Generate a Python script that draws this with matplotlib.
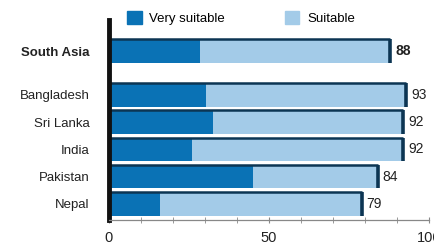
import matplotlib.pyplot as plt
from matplotlib.patches import Patch

plt.rcParams['font.family'] = ['Liberation Sans Narrow', 'Liberation Sans', 'DejaVu Sans']

# data
countries = ["Nepal", "Pakistan", "India", "Sri Lanka", "Bangladesh", "South Asia"]
very_suitable = [16, 45, 26, 32.5, 30.5, 28.5]
total_suitable = [79, 84, 92, 92, 93, 88]
ypos = [0, 1, 2, 3, 4, 5.6]

dark = "#0a72b5"
light = "#a3cbe8"
edge = "#0c3553"

fig = plt.figure(figsize=(4.34, 2.48), dpi=100)
ax = fig.add_axes([0.251, 0.113, 0.737, 0.806])

suitable_only = [t - v for t, v in zip(total_suitable, very_suitable)]
ax.barh(ypos, very_suitable, height=0.86, color=dark, linewidth=0)
ax.barh(ypos, suitable_only, left=very_suitable, height=0.86, color=light, linewidth=0)

# dark top and right outline of each bar
for y, t in zip(ypos, total_suitable):
    ax.plot([0, t], [y + 0.43, y + 0.43], color=edge, lw=1.8, solid_capstyle="butt")
    ax.plot([t, t], [y - 0.43, y + 0.43], color=edge, lw=2.6, solid_capstyle="butt")

for y, t, c in zip(ypos, total_suitable, countries):
    bold = c == "South Asia"
    ax.text(t + 1.6, y, str(t), va="center", ha="left", fontsize=10,
            fontweight="bold" if bold else "normal", color="#222222")

ax.set_yticks(ypos)
ax.set_yticklabels(countries, fontsize=9.5, color="#222222")
for lab in ax.get_yticklabels():
    if lab.get_text() == "South Asia":
        lab.set_fontweight("bold")

ax.set_xlim(0, 100)
ax.set_ylim(-0.59, 6.74)
ax.set_xticks([0, 50, 100])
ax.set_xticks(range(0, 101, 10), minor=True)
ax.tick_params(axis="x", which="both", direction="inout", length=4, color="#888888",
               labelsize=10.5, pad=6, labelcolor="#222222")
ax.tick_params(axis="y", length=0, pad=14)

for s in ["top", "right"]:
    ax.spines[s].set_visible(False)
ax.spines["left"].set_linewidth(3.5)
ax.spines["left"].set_color("#111111")
ax.spines["bottom"].set_color("#888888")
ax.spines["bottom"].set_linewidth(0.9)

handles = [Patch(color=dark, label="Very suitable"), Patch(color=light, label="Suitable")]
ax.legend(handles=handles, ncol=2, frameon=False, loc="upper left",
          bbox_to_anchor=(0.04, 1.07), fontsize=9.5, handlelength=1.1, handleheight=1.1,
          handletextpad=0.6, columnspacing=4.5, borderaxespad=0)

fig.savefig("out.png", dpi=100)
